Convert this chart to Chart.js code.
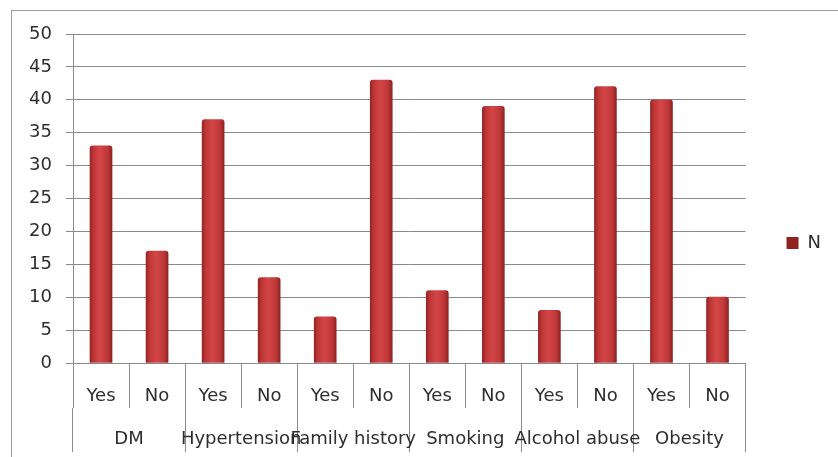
<!DOCTYPE html>
<html>
<head>
<meta charset="utf-8">
<script src="https://cdn.jsdelivr.net/npm/chart.js@4"></script>
<style>
  html, body { margin: 0; padding: 0; background: #fff; }
  #wrap { position: relative; width: 838px; height: 457px; overflow: hidden; }
  #frame { position: absolute; left: 11px; top: 10px; width: 900px; height: 500px; border: 1px solid #9a9a9a; }
  canvas { position: absolute; left: 0; top: 0; }
</style>
</head>
<body>
<div id="wrap">
  <div id="frame"></div>
  <canvas id="chart" width="838" height="457"></canvas>
</div>
<script>
// data
const answers = ["Yes", "No", "Yes", "No", "Yes", "No", "Yes", "No", "Yes", "No", "Yes", "No"];
const groups = ["DM", "Hypertension", "Family history", "Smoking", "Alcohol abuse", "Obesity"];
const valuesN = [33, 17, 37, 13, 7, 43, 11, 39, 8, 42, 40, 10];
const yTicks = [0, 5, 10, 15, 20, 25, 30, 35, 40, 45, 50];

const gridColor = "#8a8a8a";
const textColor = "#2e2e2e";
const font = { family: "DejaVu Sans", size: 18 };

// cylinder-ish shading across each bar
function barFill(ctx) {
  const solid = "#c63b3c";
  if (ctx.type !== "data") return solid;
  const sx = ctx.chart.scales.x;
  const cx = sx.getPixelForValue(ctx.dataIndex);
  if (!isFinite(cx)) return solid;
  const g = ctx.chart.ctx.createLinearGradient(cx - 11, 0, cx + 11, 0);
  g.addColorStop(0, "#952424");
  g.addColorStop(0.15, "#bd3536");
  g.addColorStop(0.45, "#d44647");
  g.addColorStop(0.8, "#bf3839");
  g.addColorStop(1, "#902222");
  return g;
}

new Chart(document.getElementById("chart"), {
  type: "bar",
  data: {
    labels: answers,
    datasets: [
      {
        label: "N",
        data: valuesN,
        backgroundColor: barFill,
        barThickness: 22,
        borderRadius: { topLeft: 3, topRight: 3 },
        borderSkipped: "bottom",
      },
    ],
  },
  options: {
    responsive: false,
    animation: false,
    layout: { padding: { left: 0, top: 34, right: 7, bottom: 5 } },
    plugins: {
      legend: {
        position: "right",
        labels: {
          boxWidth: 12,
          boxHeight: 12,
          padding: 41,
          color: textColor,
          font: font,
        },
      },
      tooltip: { enabled: false },
    },
    scales: {
      y: {
        min: 0,
        max: 50,
        afterBuildTicks: (scale) => {
          scale.ticks = yTicks.map((v) => ({ value: v }));
        },
        afterFit: (scale) => {
          scale.width = 73;
        },
        grid: { color: gridColor, tickLength: 7 },
        border: { display: true, color: gridColor },
        ticks: { padding: 14, color: textColor, font: font },
      },
      x: {
        position: "bottom",
        offset: true,
        afterFit: (scale) => {
          scale.height = 45;
        },
        grid: {
          offset: true,
          drawOnChartArea: false,
          tickLength: 45,
          color: gridColor,
        },
        border: { display: true, color: gridColor },
        ticks: {
          padding: -22,
          autoSkip: false,
          maxRotation: 0,
          color: textColor,
          font: font,
        },
      },
      x2: {
        type: "category",
        position: "bottom",
        labels: groups,
        offset: true,
        afterFit: (scale) => {
          scale.height = 44;
        },
        grid: {
          offset: true,
          drawOnChartArea: false,
          tickLength: 44,
          color: gridColor,
        },
        border: { display: false },
        ticks: {
          padding: -23,
          autoSkip: false,
          maxRotation: 0,
          color: textColor,
          font: font,
        },
      },
    },
  },
});
</script>
</body>
</html>
